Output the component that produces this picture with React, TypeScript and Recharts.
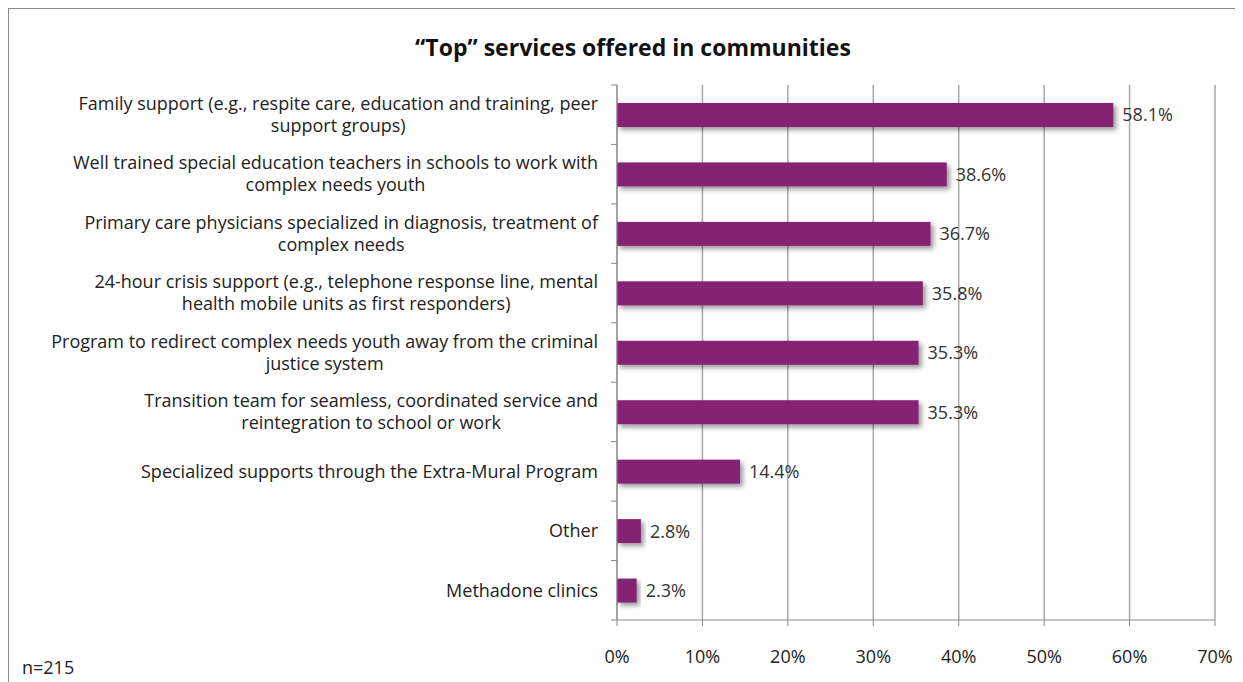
import React from 'react';
import { BarChart, Bar, XAxis, YAxis, CartesianGrid, LabelList } from 'recharts';

const categories = [
  'Family support (e.g., respite care, education and training, peer\nsupport groups)',
  'Well trained special education teachers in schools to work with\ncomplex needs youth',
  'Primary care physicians specialized in diagnosis, treatment of\ncomplex needs',
  '24-hour crisis support (e.g., telephone response line, mental\nhealth mobile units as first responders)',
  'Program to redirect complex needs youth away from the criminal\njustice system',
  'Transition team for seamless, coordinated service and\nreintegration to school or work',
  'Specialized supports through the Extra-Mural Program',
  'Other',
  'Methadone clinics',
];

const values = [58.1, 38.6, 36.7, 35.8, 35.3, 35.3, 14.4, 2.8, 2.3];

const xTicks = [0, 10, 20, 30, 40, 50, 60, 70];

const data = categories.map((name, i) => ({ name, value: values[i] }));

const FONT = '"Open Sans", "Noto Sans", sans-serif';
const FS = 18;
const W = 1233;
const H = 673;
const margin = { top: 76, right: 27, bottom: 22, left: 0 };
const Y_AXIS_W = 608;
const X_AXIS_H = 40;
const BAND = (H - margin.top - margin.bottom - X_AXIS_H) / categories.length;

let ctx: CanvasRenderingContext2D | null = null;
function measure(text: string) {
  if (!ctx) {
    ctx = document.createElement('canvas').getContext('2d');
    if (ctx) ctx.font = `${FS}px ${FONT}`;
  }
  return ctx ? ctx.measureText(text).width : text.length * 9;
}

function CategoryTick({ y, payload, index }: any) {
  const lines: string[] = String(payload.value).split('\n');
  const right = Y_AXIS_W - 19;
  const blockW = Math.max(...lines.map(measure));
  const cx = right - blockW / 2;
  const lh = 22;
  const y0 = y - ((lines.length - 1) * lh) / 2;
  return (
    <g>
      <line x1={Y_AXIS_W - 6} x2={Y_AXIS_W} y1={y - BAND / 2} y2={y - BAND / 2} stroke="#888" />
      {index === categories.length - 1 && (
        <line x1={Y_AXIS_W - 6} x2={Y_AXIS_W} y1={y + BAND / 2} y2={y + BAND / 2} stroke="#888" />
      )}
      {lines.map((l, i) => (
        <text
          key={i}
          x={cx}
          y={y0 + i * lh}
          dy="0.35em"
          textAnchor="middle"
          fontSize={FS}
          fontFamily={FONT}
          fill="#222"
        >
          {l}
        </text>
      ))}
    </g>
  );
}

function ShadowBar(props: any) {
  const { x, y, width, height } = props;
  return <rect x={x} y={y} width={width} height={height} fill="#862473" filter="url(#barShadow)" />;
}

export default function App() {
  return (
    <div
      style={{
        position: 'relative',
        width: W,
        height: H,
        border: '1px solid #8a8a8a',
        fontFamily: FONT,
        background: '#fff',
      }}
    >
      <div
        style={{
          position: 'absolute',
          top: 22,
          left: 0,
          width: 1248,
          textAlign: 'center',
          fontSize: 23,
          fontWeight: 700,
          color: '#111',
        }}
      >
        “Top” services offered in communities
      </div>
      <div style={{ position: 'absolute', left: 13, top: 646, fontSize: FS, color: '#222' }}>n=215</div>
      <BarChart width={W} height={H} data={data} layout="vertical" margin={margin} barSize={24}>
        <defs>
          <filter id="barShadow" x="-10%" y="-30%" width="130%" height="180%">
            <feDropShadow dx="3" dy="3" stdDeviation="2.5" floodColor="#000" floodOpacity="0.4" />
          </filter>
        </defs>
        <CartesianGrid horizontal={false} stroke="#a8a8a8" strokeWidth={1.5} />
        <XAxis
          type="number"
          domain={[0, 70]}
          ticks={xTicks}
          height={X_AXIS_H}
          tickFormatter={(v) => `${v}%`}
          tick={{ fontSize: FS, fill: '#222', fontFamily: FONT }}
          tickSize={6}
          tickMargin={24}
          axisLine={{ stroke: '#888' }}
          tickLine={{ stroke: '#888' }}
        />
        <YAxis
          type="category"
          dataKey="name"
          width={Y_AXIS_W}
          interval={0}
          tick={<CategoryTick />}
          tickLine={false}
          axisLine={{ stroke: '#888' }}
        />
        <Bar dataKey="value" shape={<ShadowBar />} isAnimationActive={false}>
          <LabelList
            dataKey="value"
            position="right"
            offset={9}
            formatter={(v: any) => `${v}%`}
            style={{ fontSize: FS, fill: '#333', fontFamily: FONT }}
          />
        </Bar>
      </BarChart>
    </div>
  );
}
